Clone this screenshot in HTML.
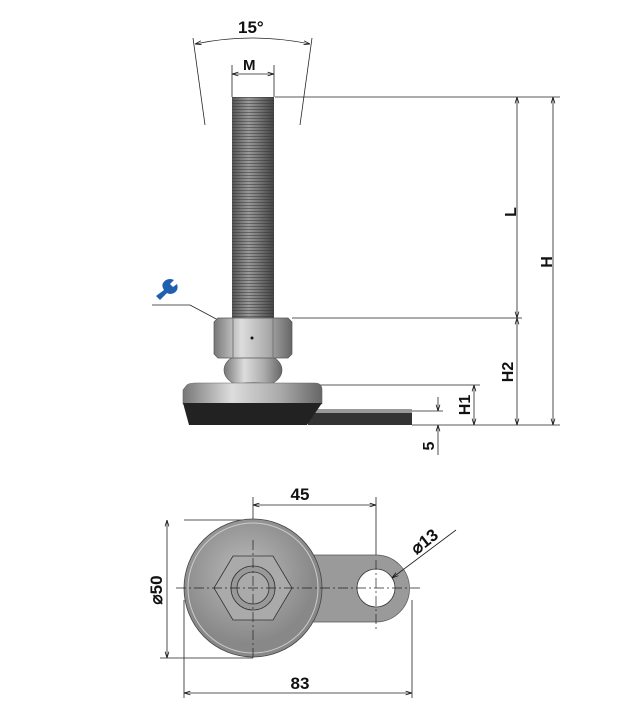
<!DOCTYPE html>
<html><head><style>body{margin:0;background:#fff}svg{display:block}text{font-family:"Liberation Sans",sans-serif;font-weight:bold;fill:#111}</style></head>
<body>
<svg width="622" height="720" viewBox="0 0 622 720" xmlns="http://www.w3.org/2000/svg">
<defs>
<linearGradient id="bolt" x1="0" x2="1"><stop offset="0" stop-color="#555"/><stop offset=".4" stop-color="#999"/><stop offset="1" stop-color="#444"/></linearGradient>
<linearGradient id="met" x1="0" x2="1"><stop offset="0" stop-color="#777"/><stop offset=".35" stop-color="#ddd"/><stop offset=".7" stop-color="#aaa"/><stop offset="1" stop-color="#666"/></linearGradient>
<radialGradient id="disk" cx=".45" cy=".4"><stop offset="0" stop-color="#bbb"/><stop offset="1" stop-color="#888"/></radialGradient>
<pattern id="thr" width="4" height="3" patternUnits="userSpaceOnUse"><rect width="4" height="3" fill="none"/><line x1="0" y1="1.5" x2="4" y2="1.5" stroke="#333" stroke-width="1" opacity=".5"/></pattern>
<marker id="a" viewBox="0 0 10 10" refX="10" refY="5" markerWidth="8" markerHeight="8" orient="auto-start-reverse"><path d="M0,2 L10,5 L0,8" fill="none" stroke="#111" stroke-width="1.2"/></marker>
</defs>
<g stroke="#222" stroke-width="0.8" fill="none">
<!-- 15 deg -->
<line x1="205" y1="125" x2="193" y2="38"/><line x1="300" y1="125" x2="312" y2="38"/>
<path d="M195 44 Q252 32 310 44" marker-start="url(#a)" marker-end="url(#a)"/>
<line x1="232" y1="65" x2="232" y2="97"/><line x1="274" y1="65" x2="274" y2="97"/>
<line x1="232" y1="74" x2="274" y2="74" marker-start="url(#a)" marker-end="url(#a)"/>
<!-- horizontal ext -->
<line x1="275" y1="97" x2="560" y2="97"/>
<line x1="292" y1="318" x2="522" y2="318"/>
<line x1="308" y1="385" x2="480" y2="385"/>
<line x1="412" y1="411" x2="443" y2="411"/>
<line x1="412" y1="425" x2="560" y2="425"/>
<line x1="517" y1="97" x2="517" y2="318" marker-start="url(#a)" marker-end="url(#a)"/>
<line x1="553" y1="97" x2="553" y2="425" marker-start="url(#a)" marker-end="url(#a)"/>
<line x1="517" y1="318" x2="517" y2="425" marker-start="url(#a)" marker-end="url(#a)"/>
<line x1="474" y1="385" x2="474" y2="425" marker-start="url(#a)" marker-end="url(#a)"/>
<line x1="438" y1="397" x2="438" y2="411" marker-end="url(#a)"/>
<line x1="438" y1="455" x2="438" y2="425" marker-end="url(#a)"/>
<!-- leader -->
<polyline points="152,305 190,305 252,338"/>
</g>
<!-- bolt -->
<rect x="232" y="97" width="42" height="222" fill="url(#bolt)"/>
<rect x="232" y="97" width="42" height="222" fill="url(#thr)"/>
<!-- ball -->
<ellipse cx="253" cy="370" rx="29" ry="18" fill="url(#met)" stroke="#555" stroke-width=".6"/>
<!-- nut -->
<path d="M214 322 L218 318 L288 318 L292 322 L292 354 L288 358 L218 358 L214 354Z" fill="url(#met)" stroke="#555" stroke-width=".7"/>
<line x1="233" y1="318" x2="233" y2="358" stroke="#777"/><line x1="273" y1="318" x2="273" y2="358" stroke="#777"/>
<circle cx="252" cy="338" r="1.5" fill="#111"/>
<!-- base -->
<path d="M228 386 Q253 379 278 386Z" fill="#bbb" stroke="#666" stroke-width=".6"/>
<path d="M308 410 L412 410 L412 425 L308 425Z" fill="#333"/>
<rect x="308" y="409" width="104" height="4" fill="#999"/>
<path d="M186 386 Q188 383 195 383 L315 383 Q322 383 322 390 L322 404 L183 404 L183 390Z" fill="url(#met)" stroke="#666" stroke-width=".6"/>
<path d="M183 403 L322 403 L307 425 L189 425Z" fill="#222"/>
<!-- wrench -->
<path d="M156 296 L164 290 Q160 284 166 280 Q170 278 174 280 L170 284 L173 287 L177 284 Q179 290 174 293 Q170 295 167 293 L160 300Z" fill="#1f5fb0"/>
<!-- bottom view -->
<g stroke="#222" stroke-width="0.8" fill="none">
<line x1="184" y1="520" x2="253" y2="520"/><line x1="160" y1="658" x2="253" y2="658"/>
<line x1="167" y1="520" x2="167" y2="658" marker-start="url(#a)" marker-end="url(#a)"/>
<line x1="253" y1="497" x2="253" y2="545"/><line x1="376" y1="497" x2="376" y2="600"/>
<line x1="253" y1="505" x2="376" y2="505" marker-start="url(#a)" marker-end="url(#a)"/>
<line x1="184" y1="600" x2="184" y2="698"/><line x1="412" y1="600" x2="412" y2="698"/>
<line x1="184" y1="693" x2="412" y2="693" marker-start="url(#a)" marker-end="url(#a)"/>
</g>
<path d="M310 555 L376 555 A33 33 0 0 1 376 622 L310 622Z" fill="#9a9a9a" stroke="#555" stroke-width=".7"/>
<circle cx="253" cy="588" r="69" fill="url(#disk)" stroke="#444" stroke-width=".8"/>
<circle cx="253" cy="588" r="65" fill="none" stroke="#ccc" stroke-width="1"/>
<polygon points="214,588 233,556 273,556 292,588 273,620 233,620" fill="#aaa" stroke="#333" stroke-width=".8"/>
<circle cx="253" cy="588" r="22" fill="#999" stroke="#333" stroke-width=".8"/>
<circle cx="253" cy="588" r="16" fill="#aaa" stroke="#333" stroke-width=".8"/>
<circle cx="376" cy="588" r="19" fill="#fff" stroke="#333" stroke-width=".8"/>
<g stroke="#222" stroke-width="0.7" stroke-dasharray="10,3,2,3" fill="none">
<line x1="176" y1="588" x2="420" y2="588"/><line x1="253" y1="540" x2="253" y2="660"/><line x1="376" y1="560" x2="376" y2="630"/>
</g>
<line x1="456" y1="530" x2="392" y2="578" stroke="#222" stroke-width=".8" marker-end="url(#a)"/>
<!-- labels -->
<text x="238" y="33" font-size="17">15°</text>
<text x="243" y="70" font-size="15">M</text>
<text x="516" y="212" font-size="16" transform="rotate(-90 516 212)" text-anchor="middle">L</text>
<text x="552" y="262" font-size="16" transform="rotate(-90 552 262)" text-anchor="middle">H</text>
<text x="513" y="372" font-size="16" transform="rotate(-90 513 372)" text-anchor="middle">H2</text>
<text x="470" y="405" font-size="16" transform="rotate(-90 470 405)" text-anchor="middle">H1</text>
<text x="434" y="446" font-size="16" transform="rotate(-90 434 446)" text-anchor="middle">5</text>
<text x="300" y="500" font-size="17" text-anchor="middle">45</text>
<text x="300" y="689" font-size="17" text-anchor="middle">83</text>
<text x="162" y="590" font-size="17" transform="rotate(-90 162 590)" text-anchor="middle">⌀50</text>
<text x="428" y="546" font-size="17" transform="rotate(-38 428 546)" text-anchor="middle">⌀13</text>
</svg>
</body></html>
